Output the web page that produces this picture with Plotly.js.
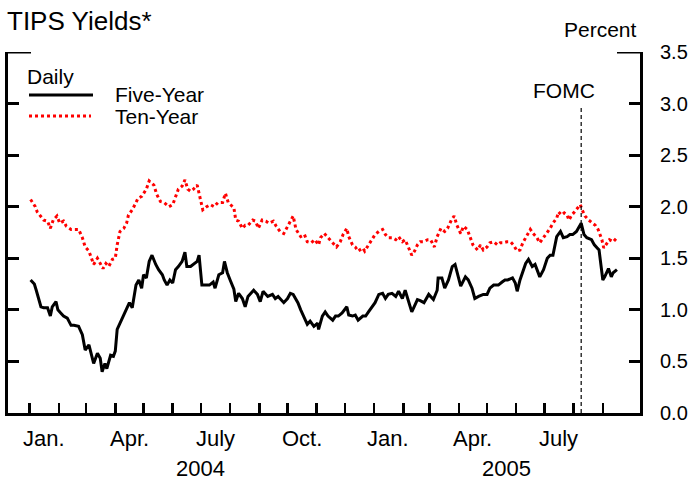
<!DOCTYPE html>
<html>
<head>
<meta charset="utf-8">
<script src="https://cdn.plot.ly/plotly-3.0.1.min.js"></script>
<style>
html,body{margin:0;padding:0;background:#fff;}
#chart{width:689px;height:480px;}
</style>
</head>
<body>
<div id="chart"></div>
<script>
// ---- Data ----
const fiveDates = [
"2004-01-02","2004-01-06","2004-01-08","2004-01-11","2004-01-13","2004-01-16","2004-01-20","2004-01-23","2004-01-25","2004-01-29","2004-01-31",
"2004-02-03","2004-02-06","2004-02-10","2004-02-14","2004-02-17","2004-02-22","2004-02-26","2004-02-29",
"2004-03-04","2004-03-07","2004-03-09","2004-03-13","2004-03-16","2004-03-18","2004-03-21","2004-03-23","2004-03-27","2004-03-30",
"2004-04-01","2004-04-03","2004-04-07","2004-04-10","2004-04-14","2004-04-16","2004-04-19","2004-04-23","2004-04-26","2004-04-29",
"2004-05-01","2004-05-04","2004-05-07","2004-05-10","2004-05-14","2004-05-17","2004-05-21","2004-05-23","2004-05-26","2004-05-29",
"2004-06-01","2004-06-04","2004-06-07","2004-06-11","2004-06-14","2004-06-16","2004-06-20","2004-06-23","2004-06-27","2004-06-29",
"2004-07-02","2004-07-06","2004-07-10","2004-07-14","2004-07-16","2004-07-20","2004-07-24","2004-07-26","2004-07-29",
"2004-08-01","2004-08-05","2004-08-07","2004-08-10","2004-08-14","2004-08-17","2004-08-20","2004-08-26","2004-08-30",
"2004-09-02","2004-09-05","2004-09-10","2004-09-15","2004-09-18","2004-09-21","2004-09-27",
"2004-10-01","2004-10-04","2004-10-07","2004-10-12","2004-10-15","2004-10-18","2004-10-22","2004-10-25","2004-10-29",
"2004-11-02","2004-11-03","2004-11-07","2004-11-10","2004-11-13","2004-11-18","2004-11-21","2004-11-24","2004-11-28",
"2004-12-03","2004-12-05","2004-12-09","2004-12-12","2004-12-15","2004-12-20","2004-12-23","2004-12-26","2004-12-30",
"2005-01-02","2005-01-06","2005-01-10","2005-01-13","2005-01-16","2005-01-20","2005-01-24","2005-01-27","2005-01-31",
"2005-02-03","2005-02-06","2005-02-10","2005-02-12","2005-02-16","2005-02-19","2005-02-23","2005-02-28",
"2005-03-05","2005-03-09","2005-03-10","2005-03-14","2005-03-17","2005-03-21","2005-03-25","2005-03-28","2005-03-30",
"2005-04-03","2005-04-08","2005-04-11","2005-04-15","2005-04-18","2005-04-22","2005-04-27",
"2005-05-01","2005-05-04","2005-05-08","2005-05-13","2005-05-17","2005-05-20","2005-05-23","2005-05-28","2005-05-31",
"2005-06-02","2005-06-05","2005-06-11","2005-06-14","2005-06-18","2005-06-21","2005-06-26","2005-06-30",
"2005-07-04","2005-07-07","2005-07-10","2005-07-14","2005-07-18","2005-07-21","2005-07-25","2005-07-28","2005-07-31",
"2005-08-04","2005-08-07","2005-08-09","2005-08-12","2005-08-15","2005-08-20","2005-08-23","2005-08-26","2005-08-28",
"2005-09-01","2005-09-03","2005-09-07","2005-09-10","2005-09-12","2005-09-16"
];
const fiveYear = [
1.29,1.25,1.19,1.10,1.03,1.02,1.02,0.94,1.03,1.08,1.00,
0.97,0.94,0.92,0.85,0.85,0.84,0.76,0.61,
0.66,0.55,0.48,0.58,0.53,0.40,0.48,0.43,0.56,0.55,
0.60,0.81,0.89,0.94,1.03,1.07,1.02,1.24,1.29,1.21,
1.34,1.31,1.47,1.53,1.44,1.39,1.34,1.29,1.24,1.29,
1.26,1.39,1.42,1.47,1.56,1.42,1.42,1.44,1.47,1.53,
1.24,1.24,1.24,1.27,1.21,1.34,1.36,1.47,1.36,
1.29,1.20,1.08,1.16,1.11,1.03,1.13,1.19,1.15,
1.08,1.18,1.13,1.15,1.11,1.13,1.07,
1.11,1.16,1.15,1.07,1.00,0.94,0.86,0.89,0.84,
0.87,0.81,0.94,0.98,0.94,0.90,0.94,0.94,0.97,
1.03,0.95,0.94,0.95,0.90,0.94,0.94,0.98,1.03,
1.07,1.15,1.16,1.11,1.15,1.16,1.13,1.18,1.11,
1.19,1.10,0.98,1.02,1.10,1.09,1.07,1.15,
1.10,1.19,1.31,1.31,1.21,1.29,1.42,1.44,1.36,
1.23,1.32,1.29,1.21,1.11,1.13,1.15,
1.15,1.21,1.24,1.24,1.27,1.29,1.29,1.31,1.26,
1.18,1.29,1.45,1.49,1.42,1.44,1.32,1.39,
1.50,1.53,1.53,1.71,1.76,1.70,1.71,1.73,1.73,
1.76,1.81,1.84,1.73,1.70,1.68,1.63,1.60,1.58,
1.29,1.32,1.40,1.32,1.36,1.39
];
const tenDates = [
"2004-01-02","2004-01-07","2004-01-09","2004-01-13","2004-01-16","2004-01-20","2004-01-23","2004-01-26","2004-01-30",
"2004-02-02","2004-02-06","2004-02-09","2004-02-14","2004-02-18","2004-02-22","2004-02-26","2004-02-29",
"2004-03-04","2004-03-07","2004-03-09","2004-03-13","2004-03-16","2004-03-19","2004-03-22","2004-03-25","2004-03-29",
"2004-04-01","2004-04-03","2004-04-06","2004-04-10","2004-04-13","2004-04-15","2004-04-19","2004-04-23","2004-04-25","2004-04-29",
"2004-05-01","2004-05-04","2004-05-07","2004-05-12","2004-05-15","2004-05-19","2004-05-23","2004-05-28",
"2004-06-01","2004-06-04","2004-06-07","2004-06-11","2004-06-14","2004-06-17","2004-06-20","2004-06-23","2004-06-27","2004-06-29",
"2004-07-03","2004-07-07","2004-07-11","2004-07-15","2004-07-19","2004-07-24","2004-07-27","2004-07-30",
"2004-08-05","2004-08-07","2004-08-10","2004-08-14","2004-08-17","2004-08-20","2004-08-25","2004-08-28","2004-08-31",
"2004-09-04","2004-09-08","2004-09-11","2004-09-16","2004-09-19","2004-09-23","2004-09-27",
"2004-10-01","2004-10-04","2004-10-07","2004-10-10","2004-10-15","2004-10-19","2004-10-22","2004-10-26","2004-10-30",
"2004-11-03","2004-11-05","2004-11-09","2004-11-12","2004-11-18","2004-11-22","2004-11-26","2004-11-29",
"2004-12-03","2004-12-05","2004-12-09","2004-12-12","2004-12-15","2004-12-20","2004-12-22","2004-12-26","2004-12-30",
"2005-01-02","2005-01-06","2005-01-10","2005-01-13","2005-01-16","2005-01-20","2005-01-24","2005-01-27","2005-01-31",
"2005-02-03","2005-02-06","2005-02-10","2005-02-13","2005-02-16","2005-02-19","2005-02-22","2005-02-27",
"2005-03-02","2005-03-06","2005-03-09","2005-03-13","2005-03-17","2005-03-20","2005-03-24","2005-03-27","2005-03-30",
"2005-04-03","2005-04-06","2005-04-10","2005-04-13","2005-04-16","2005-04-21","2005-04-24","2005-04-27",
"2005-05-01","2005-05-04","2005-05-08","2005-05-12","2005-05-15","2005-05-18","2005-05-22","2005-05-26","2005-05-29",
"2005-06-02","2005-06-05","2005-06-08","2005-06-13","2005-06-16","2005-06-19","2005-06-23","2005-06-26","2005-06-30",
"2005-07-04","2005-07-07","2005-07-10","2005-07-14","2005-07-16","2005-07-19","2005-07-22","2005-07-25","2005-07-27","2005-07-30",
"2005-08-02","2005-08-05","2005-08-08","2005-08-10","2005-08-13","2005-08-17","2005-08-21","2005-08-24","2005-08-27","2005-08-31",
"2005-09-02","2005-09-06","2005-09-08","2005-09-12","2005-09-16"
];
const tenYear = [
2.07,2.00,1.95,1.91,1.87,1.86,1.79,1.87,1.91,
1.84,1.86,1.81,1.78,1.78,1.78,1.70,1.61,
1.57,1.49,1.44,1.50,1.45,1.40,1.45,1.42,1.49,
1.50,1.63,1.76,1.79,1.84,1.92,1.97,2.04,2.08,2.10,
2.13,2.17,2.25,2.21,2.12,2.05,2.04,2.00,
2.02,2.10,2.17,2.20,2.26,2.17,2.15,2.17,2.21,2.13,
1.97,2.00,2.02,2.00,2.04,2.04,2.13,2.04,
1.99,1.87,1.86,1.79,1.82,1.82,1.87,1.86,1.79,
1.87,1.86,1.84,1.86,1.81,1.76,1.74,
1.81,1.87,1.91,1.78,1.71,1.73,1.66,1.65,1.68,
1.63,1.70,1.74,1.71,1.66,1.61,1.66,1.73,
1.79,1.71,1.63,1.61,1.57,1.60,1.57,1.63,1.68,
1.73,1.76,1.78,1.73,1.70,1.70,1.68,1.71,1.66,
1.68,1.61,1.53,1.57,1.63,1.66,1.66,1.68,
1.68,1.61,1.71,1.79,1.76,1.79,1.87,1.91,1.82,
1.74,1.81,1.78,1.70,1.63,1.58,1.63,1.58,
1.61,1.65,1.66,1.63,1.65,1.65,1.66,1.66,1.63,
1.57,1.58,1.65,1.73,1.78,1.74,1.70,1.65,1.70,
1.76,1.79,1.84,1.89,1.95,1.92,1.94,1.92,1.87,1.92,
1.95,1.99,2.02,1.97,1.91,1.87,1.84,1.82,1.78,1.68,
1.60,1.65,1.68,1.66,1.70
];
const monthTicks = [
"2004-01-01","2004-02-01","2004-03-01","2004-04-01","2004-05-01","2004-06-01","2004-07-01",
"2004-08-01","2004-09-01","2004-10-01","2004-11-01","2004-12-01","2005-01-01","2005-02-01",
"2005-03-01","2005-04-01","2005-05-01","2005-06-01","2005-07-01","2005-08-01","2005-09-01"
];
const monthLabelDates = ["2004-01-16","2004-04-16","2004-07-16","2004-10-16","2005-01-16","2005-04-16","2005-07-16"];
const monthLabels = ["Jan.","Apr.","July","Oct.","Jan.","Apr.","July"];
const yearLabelDates = ["2004-07-01","2005-05-22"];
const yearLabels = ["2004","2005"];
const yTicks = [0,0.5,1,1.5,2,2.5,3,3.5];
const yTickText = ["0.0","0.5","1.0","1.5","2.0","2.5","3.0","3.5"];
const fomcDate = "2005-08-09";
const seriesNames = ["Five-Year","Ten-Year"];

// ---- Layout helpers ----
const W = 689, H = 480;
const M = {l:8, r:49, t:52, b:67};
const PW = W - M.l - M.r, PH = H - M.t - M.b;
const px = x => (x - M.l) / PW;
const py = y => (M.t + PH - y) / PH;
const FONT = "Liberation Sans, Arial, Helvetica, sans-serif";

const traces = [
  {x: fiveDates, y: fiveYear, name: seriesNames[0], type: "scatter", mode: "lines",
   line: {color: "#000000", width: 3}, showlegend: false, hoverinfo: "skip"},
  {x: tenDates, y: tenYear, name: seriesNames[1], type: "scatter", mode: "lines",
   line: {color: "#ff0000", width: 3, dash: "3px,3px"}, showlegend: false, hoverinfo: "skip"},
  {x: [fiveDates[0]], y: [null], yaxis: "y2", showlegend: false, hoverinfo: "skip", mode: "lines"}
];

const annotations = [];
monthLabelDates.forEach((d, i) => annotations.push({
  x: d, xref: "x", y: py(438), yref: "paper", text: monthLabels[i], showarrow: false,
  xanchor: "center", yanchor: "middle", font: {family: FONT, size: 22, color: "#000"}
}));
yearLabelDates.forEach((d, i) => annotations.push({
  x: d, xref: "x", y: py(468), yref: "paper", text: yearLabels[i], showarrow: false,
  xanchor: "center", yanchor: "middle", font: {family: FONT, size: 22, color: "#000"}
}));
annotations.push({x: px(600), xref: "paper", y: py(30), yref: "paper", text: "Percent", showarrow: false,
  xanchor: "center", yanchor: "middle", font: {family: FONT, size: 21, color: "#000"}});
annotations.push({x: px(564), xref: "paper", y: py(90), yref: "paper", text: "FOMC", showarrow: false,
  xanchor: "center", yanchor: "middle", font: {family: FONT, size: 21, color: "#000"}});
annotations.push({x: px(25), xref: "paper", y: py(76), yref: "paper", text: "Daily", showarrow: false,
  xanchor: "left", yanchor: "middle", font: {family: FONT, size: 21, color: "#000"}});
annotations.push({x: px(113), xref: "paper", y: py(94.5), yref: "paper", text: seriesNames[0], showarrow: false,
  xanchor: "left", yanchor: "middle", font: {family: FONT, size: 21, color: "#000"}});
annotations.push({x: px(113), xref: "paper", y: py(117), yref: "paper", text: seriesNames[1], showarrow: false,
  xanchor: "left", yanchor: "middle", font: {family: FONT, size: 21, color: "#000"}});

const capLen = 23 / PW;
const shapes = [
  {type: "line", xref: "paper", yref: "y", x0: 0, x1: capLen, y0: 3.5, y1: 3.5, line: {color: "#000", width: 3}},
  {type: "line", xref: "paper", yref: "y", x0: 1 - capLen, x1: 1, y0: 3.5, y1: 3.5, line: {color: "#000", width: 3}},
  {type: "line", xref: "x", yref: "y", x0: fomcDate, x1: fomcDate, y0: 0, y1: 2.97, line: {color: "#000", width: 1.2, dash: "4px,3px"}},
  {type: "line", xref: "paper", yref: "paper", x0: px(29), x1: px(93), y0: py(95), y1: py(95), line: {color: "#000", width: 3}},
  {type: "line", xref: "paper", yref: "paper", x0: px(29), x1: px(91), y0: py(116), y1: py(116), line: {color: "#ff0000", width: 3, dash: "3px,3px"}}
];

const layout = {
  width: W, height: H,
  margin: M,
  paper_bgcolor: "#fff", plot_bgcolor: "#fff",
  font: {family: FONT, color: "#000"},
  title: {text: "TIPS Yields*", x: 7 / W, xanchor: "left", xref: "container",
          y: 1 - 21 / H, yanchor: "middle", yref: "container",
          font: {family: FONT, size: 26, color: "#000"}},
  showlegend: false,
  hovermode: false,
  xaxis: {type: "date", range: ["2003-12-09", "2005-10-10 12:00"],
          tickvals: monthTicks, showticklabels: false,
          ticks: "inside", ticklen: 10, tickwidth: 2.5, tickcolor: "#000",
          showline: true, linewidth: 3, linecolor: "#000",
          showgrid: false, zeroline: false, fixedrange: true},
  yaxis: {range: [0, 3.5], side: "right", tickvals: yTicks, ticktext: yTickText,
          ticks: "inside", ticklen: 11, tickwidth: 3, tickcolor: "#000",
          ticklabelstandoff: 13,
          tickfont: {family: FONT, size: 20, color: "#000"},
          showline: true, linewidth: 3, linecolor: "#000",
          showgrid: false, zeroline: false, fixedrange: true},
  yaxis2: {range: [0, 3.5], side: "left", overlaying: "y", tickvals: yTicks,
           showticklabels: false,
           ticks: "inside", ticklen: 11, tickwidth: 3, tickcolor: "#000",
           showline: true, linewidth: 3, linecolor: "#000",
           showgrid: false, zeroline: false, fixedrange: true},
  annotations: annotations,
  shapes: shapes
};

Plotly.newPlot("chart", traces, layout, {displayModeBar: false, staticPlot: true});
</script>
</body>
</html>
